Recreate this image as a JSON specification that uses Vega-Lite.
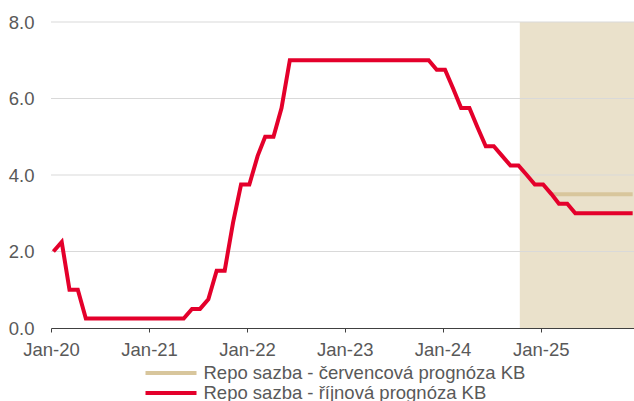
{
  "$schema": "https://vega.github.io/schema/vega-lite/v6.json",
  "width": 583,
  "height": 306,
  "autosize": {"type": "none"},
  "padding": {"left": 51, "top": 22, "right": 0, "bottom": 73},
  "config": {
    "view": {"stroke": null},
    "font": "Liberation Sans",
    "axis": {"labelFont": "Liberation Sans", "labelColor": "#595959", "labelFontSize": 18.5},
    "legend": {"labelFont": "Liberation Sans"}
  },
  "datasets": {
    "rates": [
      {"date": "2020-01-10", "series": "Repo sazba - říjnová prognóza KB", "value": 2.0},
      {"date": "2020-02-10", "series": "Repo sazba - říjnová prognóza KB", "value": 2.25},
      {"date": "2020-03-10", "series": "Repo sazba - říjnová prognóza KB", "value": 1.0},
      {"date": "2020-04-10", "series": "Repo sazba - říjnová prognóza KB", "value": 1.0},
      {"date": "2020-05-10", "series": "Repo sazba - říjnová prognóza KB", "value": 0.25},
      {"date": "2020-06-10", "series": "Repo sazba - říjnová prognóza KB", "value": 0.25},
      {"date": "2020-07-10", "series": "Repo sazba - říjnová prognóza KB", "value": 0.25},
      {"date": "2020-08-10", "series": "Repo sazba - říjnová prognóza KB", "value": 0.25},
      {"date": "2020-09-10", "series": "Repo sazba - říjnová prognóza KB", "value": 0.25},
      {"date": "2020-10-10", "series": "Repo sazba - říjnová prognóza KB", "value": 0.25},
      {"date": "2020-11-10", "series": "Repo sazba - říjnová prognóza KB", "value": 0.25},
      {"date": "2020-12-10", "series": "Repo sazba - říjnová prognóza KB", "value": 0.25},
      {"date": "2021-01-10", "series": "Repo sazba - říjnová prognóza KB", "value": 0.25},
      {"date": "2021-02-10", "series": "Repo sazba - říjnová prognóza KB", "value": 0.25},
      {"date": "2021-03-10", "series": "Repo sazba - říjnová prognóza KB", "value": 0.25},
      {"date": "2021-04-10", "series": "Repo sazba - říjnová prognóza KB", "value": 0.25},
      {"date": "2021-05-10", "series": "Repo sazba - říjnová prognóza KB", "value": 0.25},
      {"date": "2021-06-10", "series": "Repo sazba - říjnová prognóza KB", "value": 0.5},
      {"date": "2021-07-10", "series": "Repo sazba - říjnová prognóza KB", "value": 0.5},
      {"date": "2021-08-10", "series": "Repo sazba - říjnová prognóza KB", "value": 0.75},
      {"date": "2021-09-10", "series": "Repo sazba - říjnová prognóza KB", "value": 1.5},
      {"date": "2021-10-10", "series": "Repo sazba - říjnová prognóza KB", "value": 1.5},
      {"date": "2021-11-10", "series": "Repo sazba - říjnová prognóza KB", "value": 2.75},
      {"date": "2021-12-10", "series": "Repo sazba - říjnová prognóza KB", "value": 3.75},
      {"date": "2022-01-10", "series": "Repo sazba - říjnová prognóza KB", "value": 3.75},
      {"date": "2022-02-10", "series": "Repo sazba - říjnová prognóza KB", "value": 4.5},
      {"date": "2022-03-10", "series": "Repo sazba - říjnová prognóza KB", "value": 5.0},
      {"date": "2022-04-10", "series": "Repo sazba - říjnová prognóza KB", "value": 5.0},
      {"date": "2022-05-10", "series": "Repo sazba - říjnová prognóza KB", "value": 5.75},
      {"date": "2022-06-10", "series": "Repo sazba - říjnová prognóza KB", "value": 7.0},
      {"date": "2022-07-10", "series": "Repo sazba - říjnová prognóza KB", "value": 7.0},
      {"date": "2022-08-10", "series": "Repo sazba - říjnová prognóza KB", "value": 7.0},
      {"date": "2022-09-10", "series": "Repo sazba - říjnová prognóza KB", "value": 7.0},
      {"date": "2022-10-10", "series": "Repo sazba - říjnová prognóza KB", "value": 7.0},
      {"date": "2022-11-10", "series": "Repo sazba - říjnová prognóza KB", "value": 7.0},
      {"date": "2022-12-10", "series": "Repo sazba - říjnová prognóza KB", "value": 7.0},
      {"date": "2023-01-10", "series": "Repo sazba - říjnová prognóza KB", "value": 7.0},
      {"date": "2023-02-10", "series": "Repo sazba - říjnová prognóza KB", "value": 7.0},
      {"date": "2023-03-10", "series": "Repo sazba - říjnová prognóza KB", "value": 7.0},
      {"date": "2023-04-10", "series": "Repo sazba - říjnová prognóza KB", "value": 7.0},
      {"date": "2023-05-10", "series": "Repo sazba - říjnová prognóza KB", "value": 7.0},
      {"date": "2023-06-10", "series": "Repo sazba - říjnová prognóza KB", "value": 7.0},
      {"date": "2023-07-10", "series": "Repo sazba - říjnová prognóza KB", "value": 7.0},
      {"date": "2023-08-10", "series": "Repo sazba - říjnová prognóza KB", "value": 7.0},
      {"date": "2023-09-10", "series": "Repo sazba - říjnová prognóza KB", "value": 7.0},
      {"date": "2023-10-10", "series": "Repo sazba - říjnová prognóza KB", "value": 7.0},
      {"date": "2023-11-10", "series": "Repo sazba - říjnová prognóza KB", "value": 7.0},
      {"date": "2023-12-10", "series": "Repo sazba - říjnová prognóza KB", "value": 6.75},
      {"date": "2024-01-10", "series": "Repo sazba - říjnová prognóza KB", "value": 6.75},
      {"date": "2024-02-10", "series": "Repo sazba - říjnová prognóza KB", "value": 6.25},
      {"date": "2024-03-10", "series": "Repo sazba - říjnová prognóza KB", "value": 5.75},
      {"date": "2024-04-10", "series": "Repo sazba - říjnová prognóza KB", "value": 5.75},
      {"date": "2024-05-10", "series": "Repo sazba - říjnová prognóza KB", "value": 5.25},
      {"date": "2024-06-10", "series": "Repo sazba - říjnová prognóza KB", "value": 4.75},
      {"date": "2024-07-10", "series": "Repo sazba - říjnová prognóza KB", "value": 4.75},
      {"date": "2024-08-10", "series": "Repo sazba - říjnová prognóza KB", "value": 4.5},
      {"date": "2024-09-10", "series": "Repo sazba - říjnová prognóza KB", "value": 4.25},
      {"date": "2024-10-10", "series": "Repo sazba - říjnová prognóza KB", "value": 4.25},
      {"date": "2024-11-10", "series": "Repo sazba - říjnová prognóza KB", "value": 4.0},
      {"date": "2024-12-10", "series": "Repo sazba - říjnová prognóza KB", "value": 3.75},
      {"date": "2025-01-10", "series": "Repo sazba - říjnová prognóza KB", "value": 3.75},
      {"date": "2025-02-10", "series": "Repo sazba - říjnová prognóza KB", "value": 3.5},
      {"date": "2025-03-10", "series": "Repo sazba - říjnová prognóza KB", "value": 3.25},
      {"date": "2025-04-10", "series": "Repo sazba - říjnová prognóza KB", "value": 3.25},
      {"date": "2025-05-10", "series": "Repo sazba - říjnová prognóza KB", "value": 3.0},
      {"date": "2025-06-10", "series": "Repo sazba - říjnová prognóza KB", "value": 3.0},
      {"date": "2025-07-10", "series": "Repo sazba - říjnová prognóza KB", "value": 3.0},
      {"date": "2025-08-10", "series": "Repo sazba - říjnová prognóza KB", "value": 3.0},
      {"date": "2025-09-10", "series": "Repo sazba - říjnová prognóza KB", "value": 3.0},
      {"date": "2025-10-10", "series": "Repo sazba - říjnová prognóza KB", "value": 3.0},
      {"date": "2025-11-10", "series": "Repo sazba - říjnová prognóza KB", "value": 3.0},
      {"date": "2025-12-10", "series": "Repo sazba - říjnová prognóza KB", "value": 3.0},
      {"date": "2025-02-10", "series": "Repo sazba - červencová prognóza KB", "value": 3.5},
      {"date": "2025-03-10", "series": "Repo sazba - červencová prognóza KB", "value": 3.5},
      {"date": "2025-04-10", "series": "Repo sazba - červencová prognóza KB", "value": 3.5},
      {"date": "2025-05-10", "series": "Repo sazba - červencová prognóza KB", "value": 3.5},
      {"date": "2025-06-10", "series": "Repo sazba - červencová prognóza KB", "value": 3.5},
      {"date": "2025-07-10", "series": "Repo sazba - červencová prognóza KB", "value": 3.5},
      {"date": "2025-08-10", "series": "Repo sazba - červencová prognóza KB", "value": 3.5},
      {"date": "2025-09-10", "series": "Repo sazba - červencová prognóza KB", "value": 3.5},
      {"date": "2025-10-10", "series": "Repo sazba - červencová prognóza KB", "value": 3.5},
      {"date": "2025-11-10", "series": "Repo sazba - červencová prognóza KB", "value": 3.5},
      {"date": "2025-12-10", "series": "Repo sazba - červencová prognóza KB", "value": 3.5}
    ]
  },
  "layer": [
    {
      "data": {"values": [{"date": "2024-10-15", "end": "2025-12-15"}]},
      "mark": {"type": "rect", "color": "#EAE1CB"},
      "encoding": {
        "x": {"field": "date", "type": "temporal", "scale": {"domain": ["2020-01-01", "2025-12-15"]}, "title": null},
        "x2": {"field": "end"}
      }
    },
    {
      "data": {"values": [{"value": 2}, {"value": 4}, {"value": 6}, {"value": 8}]},
      "mark": {"type": "rule", "color": "#D9D9D9", "strokeWidth": 1},
      "encoding": {
        "y": {"field": "value", "type": "quantitative", "scale": {"domain": [0, 8]}, "title": null}
      }
    },
    {
      "data": {"name": "rates"},
      "transform": [{"filter": "datum.series === 'Repo sazba - červencová prognóza KB'"}],
      "mark": {"type": "line", "strokeWidth": 4, "strokeJoin": "miter"},
      "encoding": {
        "x": {"field": "date", "type": "temporal", "title": null},
        "y": {"field": "value", "type": "quantitative", "title": null},
        "color": {"field": "series", "type": "nominal"}
      }
    },
    {
      "data": {"name": "rates"},
      "transform": [{"filter": "datum.series === 'Repo sazba - říjnová prognóza KB'"}],
      "mark": {"type": "line", "strokeWidth": 4, "strokeJoin": "miter"},
      "encoding": {
        "x": {
          "field": "date", "type": "temporal", "title": null,
          "axis": {
            "format": "%b-%y", "tickCount": {"interval": "year", "step": 1},
            "grid": false, "domainColor": "#404040", "domainWidth": 1,
            "tickColor": "#404040", "tickSize": 4, "labelPadding": 8,
            "labelFlush": false, "labelOverlap": false,
            "labelFontSize": 18.5, "labelColor": "#595959"
          }
        },
        "y": {
          "field": "value", "type": "quantitative", "title": null,
          "axis": {
            "values": [0, 2, 4, 6, 8], "format": ".1f", "grid": false,
            "domain": false, "ticks": false, "labelPadding": 17,
            "labelFontSize": 18.5, "labelColor": "#595959"
          }
        },
        "color": {
          "field": "series", "type": "nominal",
          "scale": {
            "domain": ["Repo sazba - červencová prognóza KB", "Repo sazba - říjnová prognóza KB"],
            "range": ["#D8C69C", "#E4002B"]
          },
          "legend": {
            "orient": "none", "legendX": 110, "legendY": 341, "direction": "vertical",
            "title": null, "symbolType": "M-3.1875,0H3.1875", "symbolSize": 256, "symbolStrokeWidth": 4,
            "symbolStrokeCap": "round",
            "labelFontSize": 18.5, "labelColor": "#595959", "labelOffset": 22.5, "labelLimit": 500,
            "rowPadding": 0, "padding": 0
          }
        }
      }
    }
  ]
}
